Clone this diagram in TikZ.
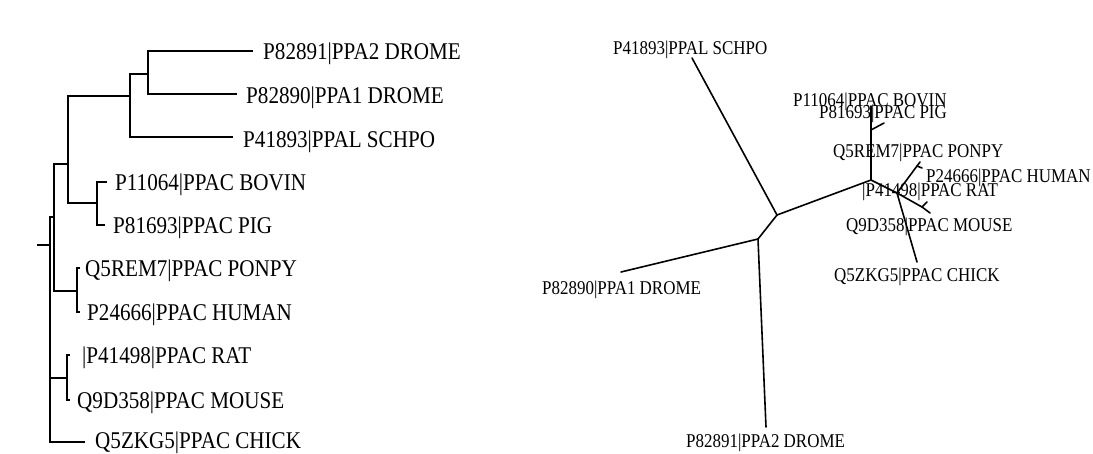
\documentclass[tikz,border=0pt]{standalone}
\usepackage{fontspec}
\newfontfamily\leftfont[FakeStretch=0.88]{Liberation Serif}
\newfontfamily\rightfont[FakeStretch=0.87]{Liberation Serif}
\begin{document}
\begin{tikzpicture}[x=1pt,y=-1pt,
  lbranch/.style={line width=2.2pt, line join=miter},
  rbranch/.style={line width=1.6pt, line cap=round},
  llab/.style={anchor=base west, inner sep=0pt, font=\leftfont\fontsize{24}{28}\selectfont},
  rlab/.style={anchor=base west, inner sep=0pt, font=\rightfont\fontsize{19.5}{23}\selectfont}]
\useasboundingbox (0,0) rectangle (1093,453);
\fill[white] (0,0) rectangle (1093,453);
% ---------------- left tree ----------------
\coordinate (Lroot) at (37,245);
\coordinate (R) at (50,245);
\coordinate (A) at (54,217);
\coordinate (B) at (67,378);
\coordinate (C) at (68,164);
\coordinate (D) at (77,291);
\coordinate (E) at (130,96);
\coordinate (F) at (97,203);
\coordinate (G) at (148,74);
\coordinate (tPPA2) at (253,51);
\coordinate (tPPA1) at (237,94);
\coordinate (tSCHPO) at (233,137);
\coordinate (tBOVIN) at (107,182);
\coordinate (tPIG) at (105,225);
\coordinate (tPONPY) at (80,268);
\coordinate (tHUMAN) at (80,312);
\coordinate (tRAT) at (70,355);
\coordinate (tMOUSE) at (70,400);
\coordinate (tCHICK) at (85,442);
\draw[lbranch] (Lroot) -- (R);
\draw[lbranch] (A) -| (R) |- (tCHICK);
\draw[lbranch] (R |- B) -- (B);
\draw[lbranch] (C) -| (A) |- (D);
\draw[lbranch] (E) -| (C) |- (F);
\draw[lbranch] (G) -| (E) |- (tSCHPO);
\draw[lbranch] (tPPA2) -| (G) |- (tPPA1);
\draw[lbranch] (tBOVIN) -| (F) |- (tPIG);
\draw[lbranch] (tPONPY) -| (D) |- (tHUMAN);
\draw[lbranch] (tRAT) -| (B) |- (tMOUSE);
\node[llab] (lPPA2) at (263,59) {P82891|PPA2 DROME};
\node[llab] (lPPA1) at (246,103) {P82890|PPA1 DROME};
\node[llab] (lSCHPO) at (243,147) {P41893|PPAL SCHPO};
\node[llab] (lBOVIN) at (115,190) {P11064|PPAC BOVIN};
\node[llab] (lPIG) at (113,233) {P81693|PPAC PIG};
\node[llab] (lPONPY) at (85,276) {Q5REM7|PPAC PONPY};
\node[llab] (lHUMAN) at (87,320) {P24666|PPAC HUMAN};
\node[llab] (lRAT) at (82,363) {|P41498|PPAC RAT};
\node[llab] (lMOUSE) at (77,408) {Q9D358|PPAC MOUSE};
\node[llab] (lCHICK) at (95,448) {Q5ZKG5|PPAC CHICK};
% ---------------- right tree ----------------
\coordinate (N0) at (758,239);
\coordinate (N1) at (777,215);
\coordinate (N2) at (871,180);
\coordinate (N3) at (897,193);
\coordinate (N4) at (871,130);
\coordinate (N5) at (922,207);
\coordinate (N6) at (917,166);
\coordinate (rSCHPO) at (692,58);
\coordinate (rPPA1) at (621,272);
\coordinate (rPPA2) at (766,427);
\coordinate (rPIG) at (871,106);
\coordinate (rBOVIN) at (884,123);
\coordinate (rHUMAN) at (920,162);
\coordinate (rHUMANb) at (922,168);
\coordinate (rRAT) at (927,202);
\coordinate (rMOUSE) at (930,213);
\coordinate (rCHICK) at (917,262);
\draw[rbranch] (rPPA1) -- (N0) -- (rPPA2);
\draw[rbranch] (N0) -- (N1) -- (rSCHPO);
\draw[rbranch] (N1) -- (N2) -- (N4) -- (rPIG);
\draw[rbranch] (N4) -- (rBOVIN);
\draw[rbranch] (N2) -- (N3) -- (N6) -- (rHUMAN);
\draw[rbranch] (N6) -- (rHUMANb);
\draw[rbranch] (N3) -- (N5) -- (rMOUSE);
\draw[rbranch] (N5) -- (rRAT);
\draw[rbranch] (N3) -- (rCHICK);
\node[rlab] (rlSCHPO) at (613,54) {P41893|PPAL SCHPO};
\node[rlab] (rlPPA1) at (542,294) {P82890|PPA1 DROME};
\node[rlab] (rlPPA2) at (686,447) {P82891|PPA2 DROME};
\node[rlab] (rlBOVIN) at (793,106) {P11064|PPAC BOVIN};
\node[rlab] (rlPIG) at (819,118) {P81693|PPAC PIG};
\node[rlab] (rlPONPY) at (833,157) {Q5REM7|PPAC PONPY};
\node[rlab] (rlHUMAN) at (926,182) {P24666|PPAC HUMAN};
\node[rlab] (rlRAT) at (862,196) {|P41498|PPAC RAT};
\node[rlab] (rlMOUSE) at (846,231) {Q9D358|PPAC MOUSE};
\node[rlab] (rlCHICK) at (834,281) {Q5ZKG5|PPAC CHICK};
\end{tikzpicture}
\end{document}
